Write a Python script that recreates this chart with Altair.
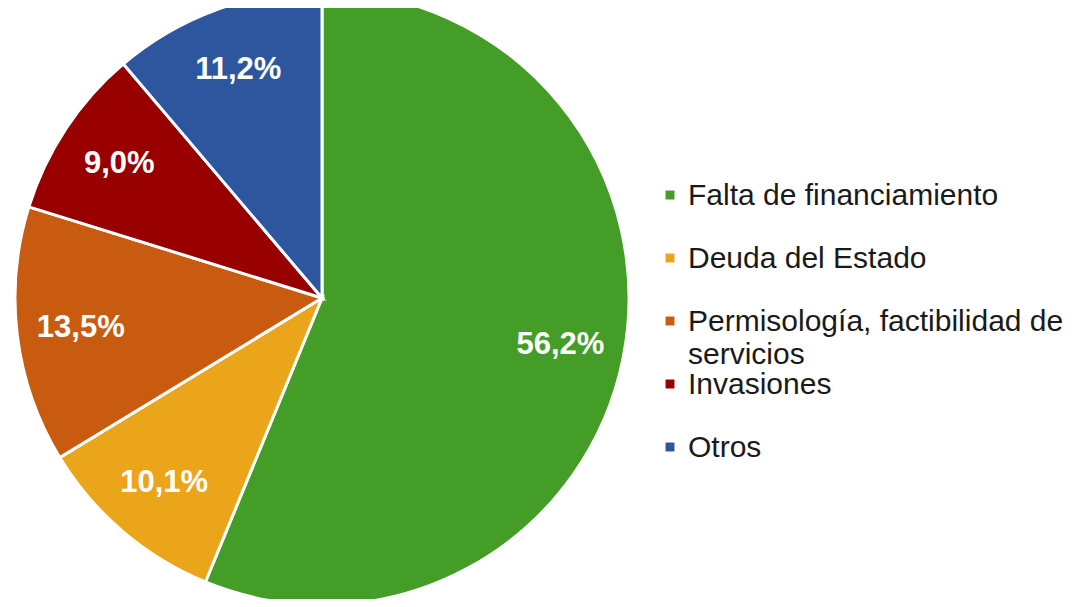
import altair as alt
import pandas as pd

categories = ["Falta de financiamiento", "Deuda del Estado",
              "Permisología, factibilidad de servicios", "Invasiones", "Otros"]
legend_labels = ["Falta de financiamiento", "Deuda del Estado",
                 "Permisología, factibilidad de\nservicios", "Invasiones", "Otros"]
values = [56.2, 10.1, 13.5, 9.0, 11.2]
colors = ["#449D27", "#EBA51B", "#C95B11", "#980000", "#2E569E"]

df = pd.DataFrame({
    "cat": categories,
    "leg": legend_labels,
    "val": values,
    "ord": list(range(len(categories))),
    "lbl": [f"{v:.1f}".replace(".", ",") + "%" for v in values],
})

color = alt.Color("cat:N", scale=alt.Scale(domain=categories, range=colors),
                  legend=None)

base = alt.Chart(df).encode(
    theta=alt.Theta("val:Q", stack=True),
    order=alt.Order("ord:Q"),
)

cx, cy = 314, 290

pie = base.mark_arc(radius=307, stroke="white", strokeWidth=3).encode(
    color=color,
    x=alt.value(cx), y=alt.value(cy),
)

text = base.mark_text(radius=243, font="Liberation Sans", fontSize=31,
                      fontWeight="bold", color="white").encode(
    text="lbl:N",
    x=alt.value(cx), y=alt.value(cy),
)

leg_y = alt.Y("cat:N", sort=categories, axis=None,
              scale=alt.Scale(type="point", range=[187, 439], padding=0))

leg_sym = alt.Chart(df).mark_square(size=80, opacity=1).encode(
    y=leg_y, x=alt.value(662), color=color,
)

leg_txt = alt.Chart(df).mark_text(
    align="left", baseline="alphabetic", dy=10, lineBreak="\n", lineHeight=33,
    font="Liberation Sans", fontSize=30, color="#1a1a1a",
).encode(
    y=leg_y, x=alt.value(680), text="leg:N",
)

chart = alt.layer(pie, text, leg_sym, leg_txt).properties(
    width=1069, height=591, padding=0, background="white",
    autosize=alt.AutoSizeParams(type="none"),
).configure_view(stroke=None)

chart.save("out.html", embed_options={"renderer": "svg", "actions": False})
